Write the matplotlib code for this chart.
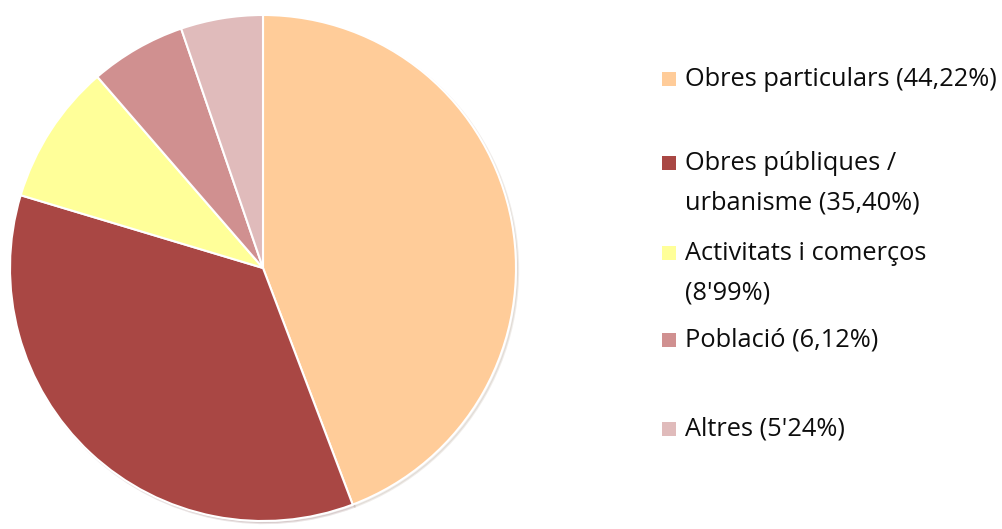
import matplotlib.pyplot as plt
from matplotlib.patches import Rectangle

labels = ['Obres particulars (44,22%)', 'Obres públiques /\nurbanisme (35,40%)',
          'Activitats i comerços\n(8\'99%)', 'Població (6,12%)', 'Altres (5\'24%)']
values = [44.22, 35.40, 8.99, 6.12, 5.24]
colors = ['#FFCC99', '#A94744', '#FFFF99', '#D09090', '#E0BBBB']

plt.rcParams['font.family'] = ['Open Sans', 'DejaVu Sans']

fig = plt.figure(figsize=(10.03, 5.29), dpi=100)

# pie: centre (263, 268) px, radius 253 px
cx, cy, r = 263, 268, 253
ax = fig.add_axes([(cx - r) / 1003, (529 - cy - r) / 529, 2 * r / 1003, 2 * r / 529])
ax.pie(values, colors=colors, startangle=90, counterclock=False,
       wedgeprops=dict(edgecolor='white', linewidth=1.5),
       shadow=dict(ox=0.006, oy=-0.006, shade=0.5, alpha=0.12))
ax.set_xlim(-1, 1)
ax.set_ylim(-1, 1)
ax.set_aspect('equal')

# legend drawn by hand (uneven spacing in the original)
ys = [79, 163, 253, 340, 429]
line_gap = 40
for lab, col, y in zip(labels, colors, ys):
    fig.patches.append(Rectangle((662 / 1003, (529 - y - 7) / 529), 14 / 1003, 14 / 529,
                                 transform=fig.transFigure, facecolor=col, edgecolor='none'))
    for i, line in enumerate(lab.split('\n')):
        fig.text(685 / 1003, (529 - y - i * line_gap) / 529, line, fontsize=18.3,
                 color='#0d0d0d', va='center', ha='left')

fig.savefig('out.png', dpi=100)
